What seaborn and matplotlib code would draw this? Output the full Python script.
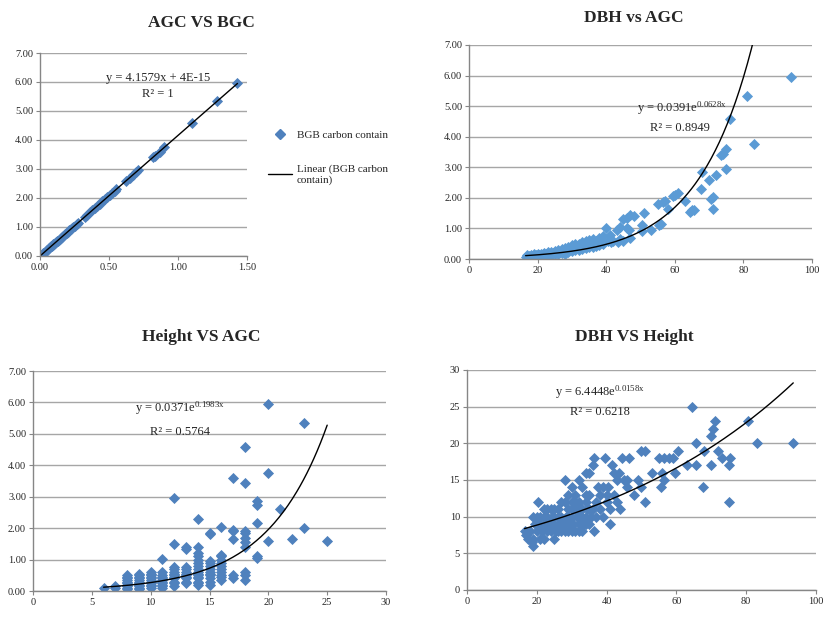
import numpy as np
import matplotlib
matplotlib.use("Agg")
import matplotlib.pyplot as plt
from matplotlib.lines import Line2D
from matplotlib.ticker import FormatStrFormatter
import seaborn as sns

# ---- data ----
# AGC vs BGC
bgc1 = [0.012, 0.019, 0.024, 0.029, 0.036, 0.043, 0.048, 0.053, 0.060, 0.067,
        0.072, 0.079, 0.084, 0.091, 0.096, 0.103, 0.108, 0.115, 0.120, 0.127,
        0.135, 0.144, 0.152, 0.159, 0.168, 0.176, 0.183, 0.192, 0.202, 0.212,
        0.221, 0.231, 0.241, 0.253, 0.265, 0.277, 0.325, 0.342, 0.361, 0.380,
        0.397, 0.414, 0.433, 0.452, 0.469, 0.486, 0.505, 0.524, 0.541, 0.553,
        0.625, 0.649, 0.673, 0.697, 0.709, 0.818, 0.830, 0.866, 0.902, 1.099,
        1.282, 1.431]
agc1 = [0.05, 0.08, 0.10, 0.12, 0.15, 0.18, 0.20, 0.22, 0.25, 0.28,
        0.30, 0.33, 0.35, 0.38, 0.40, 0.43, 0.45, 0.48, 0.50, 0.53,
        0.56, 0.60, 0.63, 0.66, 0.70, 0.73, 0.76, 0.80, 0.84, 0.88,
        0.92, 0.96, 1.00, 1.05, 1.10, 1.15, 1.35, 1.42, 1.50, 1.58,
        1.65, 1.72, 1.80, 1.88, 1.95, 2.02, 2.10, 2.18, 2.25, 2.30,
        2.60, 2.70, 2.80, 2.90, 2.95, 3.40, 3.45, 3.60, 3.75, 4.57,
        5.33, 5.95]

# DBH vs AGC
dbh2 = [16.5, 17, 17, 17.5, 18, 18, 18.5, 19, 19, 19.5,
        20, 20, 20.5, 21, 21, 21.5, 22, 22, 22.5, 23,
        23, 23.5, 24, 24, 24.5, 25, 25, 25.5, 26, 26,
        26.5, 27, 27, 27.5, 28, 28, 28.5, 29, 29, 29.5,
        30, 30, 30.5, 31, 31, 31.5, 32, 32, 32.5, 33,
        33, 33.5, 34, 34, 34.5, 35, 35, 35.5, 36, 36,
        36.5, 37, 37, 38, 38, 39, 39, 40, 40.5, 41,
        41.5, 42, 43, 43.5, 44, 44, 45, 45, 46, 46,
        46.5, 47, 47, 48, 50.5, 50.5, 51, 53, 55, 55.5,
        56, 56.5, 57, 58, 59.5, 60, 61, 63, 64.5, 65,
        65.5, 67.5, 68, 70, 70.5, 71, 71, 72, 73.5, 74,
        75, 75, 76, 81, 83, 94]
agc2 = [0.08, 0.05, 0.12, 0.10, 0.07, 0.14, 0.10, 0.08, 0.15, 0.12,
        0.10, 0.17, 0.13, 0.11, 0.18, 0.15, 0.12, 0.20, 0.16, 0.13,
        0.22, 0.18, 0.14, 0.24, 0.20, 0.16, 0.27, 0.22, 0.17, 0.30,
        0.24, 0.20, 0.32, 0.26, 0.18, 0.35, 0.30, 0.22, 0.40, 0.32,
        0.25, 0.45, 0.35, 0.28, 0.48, 0.38, 0.30, 0.50, 0.40, 0.32,
        0.55, 0.42, 0.35, 0.60, 0.45, 0.38, 0.62, 0.48, 0.40, 0.65,
        0.50, 0.42, 0.60, 0.45, 0.70, 0.50, 0.75, 1.00, 0.60, 0.80,
        0.55, 0.60, 0.95, 0.55, 1.05, 0.65, 0.60, 1.30, 1.35, 1.00,
        0.95, 0.70, 1.45, 1.40, 1.10, 0.90, 1.50, 0.95, 1.80, 1.10,
        1.15, 1.85, 1.90, 1.65, 2.05, 2.10, 2.15, 1.90, 1.55, 1.60,
        1.60, 2.30, 2.85, 2.60, 1.95, 2.02, 1.65, 2.75, 3.40, 3.45,
        2.95, 3.60, 4.57, 5.33, 3.75, 5.95]

# Height vs AGC
height3 = [6, 7, 7,
           8, 8, 8, 8, 8, 8, 8, 8, 8, 8,
           9, 9, 9, 9, 9, 9, 9, 9, 9, 9, 9,
           10, 10, 10, 10, 10, 10, 10, 10, 10, 10, 10,
           11, 11, 11, 11, 11, 11, 11, 11, 11, 11, 11,
           12, 12, 12, 12, 12, 12, 12, 12, 12, 12, 12, 12,
           13, 13, 13, 13, 13, 13, 13, 13, 13, 13, 13,
           14, 14, 14, 14, 14, 14, 14, 14, 14, 14, 14, 14, 14, 14, 14, 14,
           15, 15, 15, 15, 15, 15, 15, 15, 15, 15, 15, 15,
           16, 16, 16, 16, 16, 16, 16, 16, 16, 16, 16,
           17, 17, 17, 17, 17, 17,
           18, 18, 18, 18, 18, 18, 18, 18, 18, 18,
           19, 19, 19, 19, 19,
           20, 20, 20, 21, 22, 23, 23, 25]
agc3 = [0.10, 0.10, 0.15,
        0.05, 0.10, 0.15, 0.20, 0.25, 0.30, 0.35, 0.40, 0.45, 0.50,
        0.05, 0.10, 0.15, 0.20, 0.25, 0.30, 0.35, 0.40, 0.45, 0.50, 0.55,
        0.10, 0.15, 0.20, 0.25, 0.30, 0.35, 0.40, 0.45, 0.50, 0.55, 0.60,
        0.10, 0.15, 0.20, 0.25, 0.30, 0.35, 0.40, 0.45, 0.50, 0.60, 1.02,
        0.15, 0.25, 0.30, 0.40, 0.45, 0.50, 0.55, 0.60, 0.70, 0.75, 1.50, 2.95,
        0.25, 0.30, 0.40, 0.45, 0.50, 0.55, 0.60, 0.70, 0.75, 1.35, 1.40,
        0.20, 0.25, 0.30, 0.40, 0.45, 0.50, 0.55, 0.60, 0.70, 0.80, 0.90, 1.00, 1.10, 1.20, 1.40, 2.30,
        0.20, 0.30, 0.40, 0.50, 0.55, 0.60, 0.70, 0.80, 0.90, 0.95, 1.80, 1.85,
        0.35, 0.45, 0.50, 0.60, 0.70, 0.80, 0.90, 1.00, 1.10, 1.15, 2.05,
        0.40, 0.50, 1.65, 1.90, 1.95, 3.60,
        0.35, 0.50, 0.60, 1.40, 1.55, 1.70, 1.85, 1.90, 3.45, 4.57,
        1.05, 1.10, 2.15, 2.75, 2.85,
        1.60, 3.75, 5.95, 2.60, 1.65, 2.00, 5.33, 1.60]

# DBH vs Height
dbh4 = [16.5, 17, 17.5, 18, 18.5, 19, 19, 19, 19.5, 20,
        20, 20.5, 21, 21, 21.5, 22, 22, 22.5, 23, 23,
        23.5, 24, 24, 24.5, 25, 25, 25, 25.5, 26, 26,
        26.5, 27, 27, 27.5, 28, 28, 28, 28.5, 29, 29,
        29, 29.5, 30, 30, 30, 30, 30.5, 31, 31, 31,
        31.5, 32, 32, 32, 32.5, 33, 33, 33, 33.5, 34,
        34, 34, 34.5, 35, 35, 35, 35.5, 36, 36, 36.5,
        36.5, 37, 37, 37.5, 38, 39, 39.5, 40, 40, 40.5,
        41, 41, 41.5, 42, 42, 43, 43, 43.5, 44, 44.5,
        45, 46, 46, 46.5, 48, 49, 50, 50, 51, 51,
        53, 55, 55.5, 56, 56.5, 56.5, 58, 59, 59.5, 60.5,
        63, 64.5, 65.5, 65.5, 67.5, 68, 70, 70, 70.5, 71,
        72, 73, 75, 75, 75.5, 80.5, 83, 93.5,
        22, 24, 26, 27, 28, 30, 32, 33, 34, 35,
        20, 21, 23, 25, 29, 31, 32, 34, 38, 39]
height4 = [8, 7.5, 7, 8, 6.5, 6, 7, 10, 9, 8,
           10, 12, 7, 9, 8, 7, 11, 9, 8, 10,
           9, 8, 11, 10, 7, 9, 11, 8, 10, 11,
           9, 8, 10, 9, 8, 12, 15, 10, 8, 13,
           11, 9, 8, 10, 12, 14, 9, 8, 11, 13,
           10, 9, 12, 15, 10, 8, 11, 14, 9, 10,
           12, 16, 11, 9, 13, 16, 10, 11, 17, 8,
           18, 10, 12, 14, 11, 10, 18, 12, 13, 14,
           9, 11, 17, 13, 16, 12, 15, 16, 11, 18,
           15, 14, 15, 18, 13, 15, 14, 19, 12, 19,
           16, 18, 14, 16, 15, 18, 18, 18, 16, 19,
           17, 25, 17, 20, 14, 19, 17, 21, 22, 23,
           19, 18, 12, 17, 18, 23, 20, 20,
           10, 9, 8, 12, 9, 11, 8, 10, 9, 11,
           9, 10, 11, 10, 10, 12, 11, 13, 13, 14]

# trend lines (coefficients printed on the chart)
lin1 = (4.1579, 4e-15)
exp2 = (0.0391, 0.0628)
exp3 = (0.0371, 0.1983)
exp4 = (6.4448, 0.0158)

BLUE = "#4F81BD"
BLUE2 = "#5B9BD5"
GRID = "#A6A6A6"
MSIZE = 32

sns.set_style("white")
plt.rcParams["font.family"] = ["Liberation Serif", "DejaVu Serif"]
plt.rcParams["mathtext.fontset"] = "custom"
plt.rcParams["mathtext.rm"] = "Liberation Serif"
plt.rcParams["mathtext.it"] = "Liberation Serif"

fig = plt.figure(figsize=(8.25, 6.17), dpi=100)
ax1 = fig.add_axes([0.0485, 0.5851, 0.2509, 0.329])
ax2 = fig.add_axes([0.5685, 0.5802, 0.4158, 0.3469])
ax3 = fig.add_axes([0.040, 0.0421, 0.4279, 0.3566])
ax4 = fig.add_axes([0.566, 0.0438, 0.423, 0.3566])


def style_axis(ax, xlim, xticks, ylim, yticks, xfmt, yfmt):
    ax.set_xlim(*xlim)
    ax.set_ylim(*ylim)
    ax.set_xticks(xticks)
    ax.set_yticks(yticks)
    ax.xaxis.set_major_formatter(FormatStrFormatter(xfmt))
    ax.yaxis.set_major_formatter(FormatStrFormatter(yfmt))
    ax.yaxis.grid(True, color=GRID, lw=1.0)
    ax.xaxis.grid(False)
    ax.set_axisbelow(True)
    for s in ["top", "right"]:
        ax.spines[s].set_visible(False)
    for s in ["left", "bottom"]:
        ax.spines[s].set_color("#868686")
        ax.spines[s].set_linewidth(1.0)
    ax.tick_params(axis="both", labelsize=7.5, length=3, width=0.8,
                   color="#868686", direction="out", pad=2, left=True, bottom=True)
    ax.set_xlabel("")
    ax.set_ylabel("")


def trend(ax, xs, ys):
    sns.lineplot(x=xs, y=ys, ax=ax, color="black", lw=1.0, sort=False,
                 estimator=None, legend=False)


# panel 1
sns.scatterplot(x=bgc1, y=agc1, ax=ax1, marker="D", s=MSIZE, color=BLUE,
                edgecolor=BLUE, linewidth=0, legend=False)
x = np.linspace(0, max(bgc1), 50)
trend(ax1, x, lin1[0] * x + lin1[1])
style_axis(ax1, (0, 1.5), [0, 0.5, 1.0, 1.5], (0, 7), range(8), "%.2f", "%.2f")
ax1.text(0.57, 0.875, "y = 4.1579x + 4E-15", transform=ax1.transAxes,
         ha="center", va="center", fontsize=9)
ax1.text(0.57, 0.80, "R² = 1", transform=ax1.transAxes,
         ha="center", va="center", fontsize=9)
handles = [Line2D([], [], marker="D", color=BLUE, ls="none", ms=5.5),
           Line2D([], [], color="black", lw=1.0)]
fig.legend(handles, ["BGB carbon contain", "Linear (BGB carbon\ncontain)"],
           loc="upper left", bbox_to_anchor=(258 / 825, 1 - 120 / 617),
           frameon=False, fontsize=8, handlelength=2.2, labelspacing=2.2,
           handletextpad=0.4)

# panel 2
sns.scatterplot(x=dbh2, y=agc2, ax=ax2, marker="D", s=MSIZE, color=BLUE2,
                edgecolor=BLUE2, linewidth=0, legend=False)
x = np.linspace(min(dbh2), max(dbh2), 200)
trend(ax2, x, exp2[0] * np.exp(exp2[1] * x))
style_axis(ax2, (0, 100), range(0, 101, 20), (0, 7), range(8), "%d", "%.2f")
ax2.text(0.62, 0.706, r"y = 0.0391e$^{\mathrm{0.0628x}}$", transform=ax2.transAxes,
         ha="center", va="center", fontsize=9)
ax2.text(0.615, 0.612, "R² = 0.8949", transform=ax2.transAxes,
         ha="center", va="center", fontsize=9)

# panel 3
sns.scatterplot(x=height3, y=agc3, ax=ax3, marker="D", s=MSIZE, color=BLUE,
                edgecolor=BLUE, linewidth=0, legend=False)
x = np.linspace(min(height3), max(height3), 200)
trend(ax3, x, exp3[0] * np.exp(exp3[1] * x))
style_axis(ax3, (0, 30), range(0, 31, 5), (0, 7), range(8), "%d", "%.2f")
ax3.text(0.416, 0.832, r"y = 0.0371e$^{\mathrm{0.1983x}}$", transform=ax3.transAxes,
         ha="center", va="center", fontsize=9)
ax3.text(0.416, 0.725, "R² = 0.5764", transform=ax3.transAxes,
         ha="center", va="center", fontsize=9)

# panel 4
sns.scatterplot(x=dbh4, y=height4, ax=ax4, marker="D", s=MSIZE, color=BLUE,
                edgecolor=BLUE, linewidth=0, legend=False)
x = np.linspace(min(dbh4), max(dbh4), 200)
trend(ax4, x, exp4[0] * np.exp(exp4[1] * x))
style_axis(ax4, (0, 100), range(0, 101, 20), (0, 30), range(0, 31, 5), "%d", "%d")
ax4.text(0.38, 0.90, r"y = 6.4448e$^{\mathrm{0.0158x}}$", transform=ax4.transAxes,
         ha="center", va="center", fontsize=9)
ax4.text(0.38, 0.81, "R² = 0.6218", transform=ax4.transAxes,
         ha="center", va="center", fontsize=9)

# chart titles
for tx, ty, label in [(201, 23, "AGC VS BGC"), (634, 18, "DBH vs AGC"),
                      (201, 337, "Height VS AGC"), (634, 337, "DBH VS Height")]:
    fig.text(tx / 825, 1 - ty / 617, label, ha="center", va="center",
             fontsize=12.5, fontweight="bold")

fig.savefig("out.png", dpi=100)
